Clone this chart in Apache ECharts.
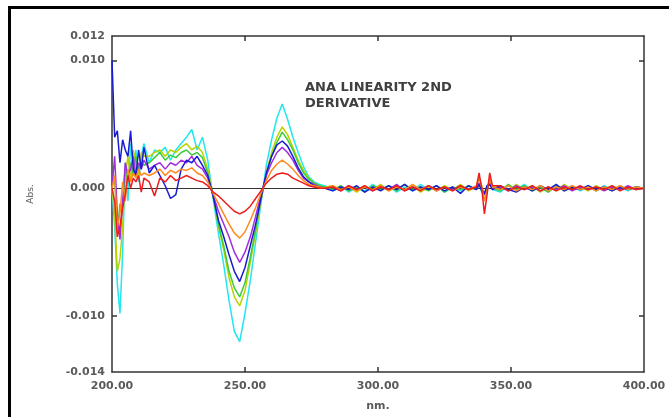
<!DOCTYPE html>
<html lang="en">
<head>
    <meta charset="UTF-8">
    <title>ANA LINEARITY 2ND DERIVATIVE</title>
</head>
<body style="margin:0;background:#fff">
<div id="chart" style="width: 669px; height: 417px"></div>
</body>
<script src="https://cdn.jsdelivr.net/npm/echarts@6/dist/echarts.min.js"></script>
<script>
    // wavelength (nm) and 2nd derivative values in units of 0.0001 Abs
    var nm = [200,201,202,203,204,205,206,207,208,209,210,211,212,
        214,216,218,220,222,224,226,228,230,232,234,236,
        238,240,242,244,246,248,250,252,254,256,258,260,262,264,266,268,270,272,274,276,278,280,
        283,286,289,292,295,298,301,304,307,310,313,316,319,322,325,328,331,334,337,
        338,339,340,341,342,343,
        346,349,352,355,358,361,364,367,370,373,376,379,382,385,388,391,394,397,400];

    var cyan = [0,-30,-75,-98,-50,20,-10,35,15,30,5,25,35,
        20,30,28,32,22,30,35,40,46,30,40,22,
        -8,-35,-60,-88,-112,-120,-98,-72,-42,-12,18,38,55,66,54,40,28,17,9,5,3,2,
        -2,2,-3,1,-2,3,-1,2,-3,1,-2,3,-1,2,-3,1,-2,2,-1,
        4,-3,-5,2,4,-1,
        -3,2,-1,3,-2,1,-3,2,-1,2,-2,1,-2,2,-1,1,-2,1,0];
    var yellow = [0,-20,-65,-55,-30,10,25,5,30,20,10,28,25,
        25,28,30,25,30,28,32,35,30,33,28,15,
        -5,-30,-48,-70,-85,-92,-80,-58,-35,-10,12,28,40,48,42,32,22,14,8,4,2,1,
        2,-2,1,-3,2,-1,3,-2,1,-1,2,-3,1,-2,2,-1,3,-2,1,
        8,2,-6,0,6,1,
        2,-2,3,-1,2,-3,1,-2,3,-1,1,-2,2,-1,2,-1,1,-1,0];
    var green = [0,10,-35,-12,-15,15,5,20,10,25,15,20,18,
        20,24,28,22,26,24,28,30,26,28,24,12,
        -6,-28,-45,-65,-78,-85,-74,-54,-32,-8,10,25,36,44,38,30,20,12,7,4,2,1,
        -1,2,-2,1,-3,2,-1,2,-2,3,-1,1,-2,2,-3,1,-1,2,-1,
        3,-1,-4,1,3,0,
        -2,3,-1,2,-2,1,-3,2,-2,1,-1,2,-2,1,-2,2,-1,1,0];
    var purple = [0,25,-20,-40,-10,20,10,15,25,10,20,15,22,
        15,18,20,15,20,18,22,20,25,18,15,8,
        -5,-18,-28,-38,-50,-58,-50,-38,-22,-5,10,20,28,32,28,22,14,8,5,3,1,0,
        1,-2,2,-1,1,-2,2,-1,3,-2,1,-1,2,-2,1,-1,2,-1,1,
        4,0,-5,1,4,0,
        1,-2,2,-1,1,-2,1,-1,2,-2,1,-1,1,-2,1,-1,2,-1,0];
    var blue = [100,40,45,20,38,30,25,45,15,10,30,15,32,
        12,18,10,2,-8,-5,15,22,20,25,18,10,
        -6,-25,-38,-52,-65,-73,-62,-45,-28,-8,12,25,34,37,33,25,16,9,5,2,1,0,
        -2,1,-1,2,-3,1,-2,2,-1,3,-2,1,-1,2,-2,1,-4,2,-1,
        3,-2,-4,2,3,-1,
        2,-1,-3,1,-2,2,-1,3,-2,1,-1,2,-1,1,-2,1,-1,1,0];
    var orange = [0,10,-30,-20,5,-10,15,5,12,8,15,10,12,
        10,12,15,10,14,12,15,14,16,12,10,5,
        -4,-12,-20,-28,-35,-39,-34,-25,-15,-4,6,14,19,22,19,15,10,6,3,2,1,0,
        2,-1,1,-2,1,-1,2,-2,1,-1,3,-1,2,-2,1,-2,1,-1,2,
        8,1,-10,-2,8,1,
        -1,2,-2,1,-1,2,-2,1,-1,2,-1,1,-2,1,-1,2,-1,1,0];
    var red = [0,-10,-38,-30,-15,-5,10,0,8,5,10,-3,8,
        5,-6,8,5,10,6,8,10,8,6,5,2,
        -3,-6,-10,-14,-18,-20,-18,-14,-8,-2,4,8,11,12,11,8,6,4,2,1,0,0,
        1,-2,2,-1,2,-2,1,-1,2,-2,1,-2,2,-1,1,-2,2,-1,1,
        12,0,-20,-5,12,2,
        2,-2,1,-1,2,-2,1,-2,1,-1,2,-1,1,-1,2,-2,1,-1,0];

    var xLabels = [200, 250, 300, 350, 400];
    var xTicks = [250, 300, 350];
    var yLabels = [-143.8, -100, 0, 100, 119.2];
    var yTicks = [-100, 100];

    var lines = [cyan, yellow, green, purple, blue, orange, red];
    var colors = ['#22e6f0', '#bcd200', '#3ccc3c', '#a02ee0', '#1a1ad2', '#ff8a1e', '#ee1c1c'];

    var chart = echarts.init(document.getElementById('chart'));

    var series = [];
    for (var s = 0; s < lines.length; s++) {
        var pts = [];
        for (var i = 0; i < nm.length; i++) {
            pts.push([nm[i], lines[s][i]]);
        }
        series.push({
            type: 'line',
            data: pts,
            showSymbol: false,
            symbol: 'none',
            lineStyle: {color: colors[s], width: 1.5},
            z: 3 + s
        });
    }
    // zero line
    series[0].markLine = {
        silent: true,
        symbol: 'none',
        label: {show: false},
        lineStyle: {color: '#333', width: 1, type: 'solid'},
        data: [{yAxis: 0}]
    };

    var axisFont = {fontFamily: 'DejaVu Sans', fontSize: 11, fontWeight: 'bold', color: '#5a5a5a'};
    var lineCol = {color: '#333', width: 1.5};

    var option = {
        animation: false,
        backgroundColor: '#fff',
        grid: {left: 112, top: 36, width: 532, height: 342},
        xAxis: [{
            type: 'value', min: 200, max: 400, position: 'bottom',
            axisLine: {show: true, onZero: false, lineStyle: lineCol},
            axisTick: {show: true, inside: true, length: 5, customValues: xTicks, lineStyle: lineCol},
            axisLabel: Object.assign({margin: 9, customValues: xLabels,
                formatter: function (v) { return v.toFixed(2); }}, axisFont),
            splitLine: {show: false},
            name: 'nm.', nameLocation: 'middle', nameGap: 29,
            nameTextStyle: axisFont
        }, {
            type: 'value', min: 200, max: 400, position: 'top',
            axisLine: {show: true, onZero: false, lineStyle: lineCol},
            axisTick: {show: true, inside: true, length: 5, customValues: xTicks, lineStyle: lineCol},
            axisLabel: {show: false},
            splitLine: {show: false}
        }],
        yAxis: [{
            type: 'value', min: -143.8, max: 119.2, position: 'left',
            axisLine: {show: true, onZero: false, lineStyle: lineCol},
            axisTick: {show: true, inside: true, length: 5, customValues: yTicks, lineStyle: lineCol},
            axisLabel: Object.assign({margin: 7, customValues: yLabels,
                formatter: function (v) { return (v / 10000).toFixed(3); }}, axisFont),
            splitLine: {show: false}
        }, {
            type: 'value', min: -143.8, max: 119.2, position: 'right',
            axisLine: {show: true, onZero: false, lineStyle: lineCol},
            axisTick: {show: true, inside: true, length: 5, customValues: yTicks, lineStyle: lineCol},
            axisLabel: {show: false},
            splitLine: {show: false}
        }],
        graphic: [{
            type: 'rect',
            shape: {x: 9.5, y: 7.5, width: 1000, height: 1000},
            style: {fill: null, stroke: '#000', lineWidth: 3},
            silent: true
        }, {
            type: 'text',
            x: 31, y: 194,
            rotation: Math.PI / 2,
            style: {text: 'Abs.', fontFamily: 'DejaVu Sans', fontSize: 9, fill: '#555',
                align: 'center', verticalAlign: 'middle'}
        }, {
            type: 'text',
            left: 305, top: 80,
            style: {text: 'ANA LINEARITY 2ND\nDERIVATIVE', fontFamily: 'DejaVu Sans', fontSize: 13,
                fontWeight: 'bold', fill: '#404040', lineHeight: 16}
        }],
        series: series
    };
    chart.setOption(option);
</script>
</html>
